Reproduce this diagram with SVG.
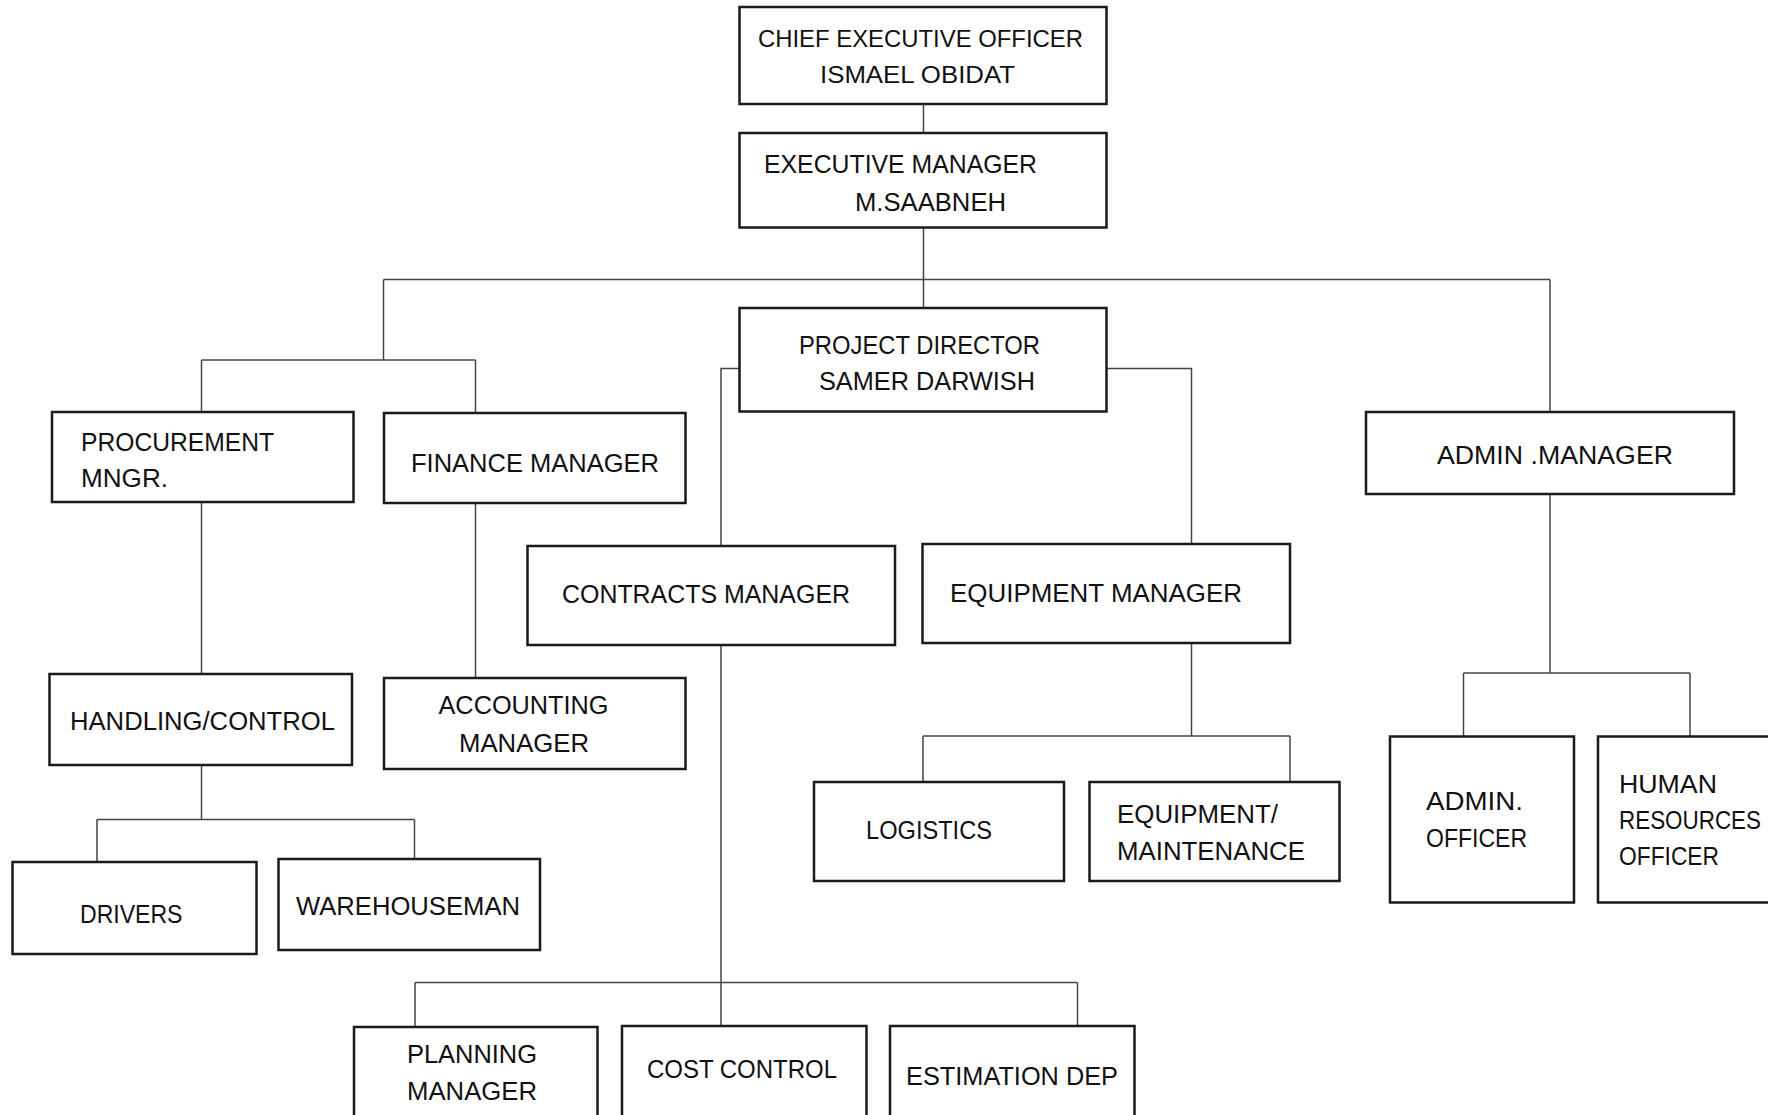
<svg xmlns="http://www.w3.org/2000/svg" width="1768" height="1115" viewBox="0 0 1768 1115">
<style>
.box{fill:#fff;stroke:#1a1a1a;stroke-width:2.5}
.c{fill:none;stroke:#444;stroke-width:1.5}
text{font-family:"Liberation Sans",Arial,sans-serif;font-size:25px;fill:#111}
.s24{font-size:24px}
</style>
<rect width="1768" height="1115" fill="#fff"/>
<g id="connectors">
<path class="c" d="M923.5,104V133"/>
<path class="c" d="M923.5,227V308"/>
<path class="c" d="M383.5,279.5H1550"/>
<path class="c" d="M383.5,279.5V360"/>
<path class="c" d="M1550,279.5V412"/>
<path class="c" d="M201.5,360H475.5"/>
<path class="c" d="M201.5,360V412"/>
<path class="c" d="M475.5,360V413"/>
<path class="c" d="M201.5,502V674"/>
<path class="c" d="M475.5,503V678"/>
<path class="c" d="M201.5,765V819.5"/>
<path class="c" d="M97,819.5H414.5"/>
<path class="c" d="M97,819.5V862"/>
<path class="c" d="M414.5,819.5V859"/>
<path class="c" d="M739.5,368.5H721V546"/>
<path class="c" d="M721,645V1026"/>
<path class="c" d="M415,982.5H1077.5"/>
<path class="c" d="M415,982.5V1027"/>
<path class="c" d="M1077.5,982.5V1026"/>
<path class="c" d="M1106.5,368.5H1191.5V544"/>
<path class="c" d="M1191.5,643V736"/>
<path class="c" d="M923,736H1290"/>
<path class="c" d="M923,736V782"/>
<path class="c" d="M1290,736V782"/>
<path class="c" d="M1550,494V673"/>
<path class="c" d="M1463.5,673H1690"/>
<path class="c" d="M1463.5,673V736.5"/>
<path class="c" d="M1690,673V736.5"/>
</g>
<g id="ceo"><rect class="box" x="739.5" y="7" width="367" height="97"/>
<text class="s24" x="758" y="47" textLength="325" lengthAdjust="spacingAndGlyphs">CHIEF EXECUTIVE OFFICER</text>
<text class="s24" x="820" y="83" textLength="195" lengthAdjust="spacingAndGlyphs">ISMAEL OBIDAT</text></g>
<g id="executive-manager"><rect class="box" x="739.5" y="133" width="367" height="94.5"/>
<text x="764" y="173" textLength="273" lengthAdjust="spacingAndGlyphs">EXECUTIVE MANAGER</text>
<text x="855" y="211" textLength="151" lengthAdjust="spacingAndGlyphs">M.SAABNEH</text></g>
<g id="project-director"><rect class="box" x="739.5" y="308" width="367" height="103.5"/>
<text x="799" y="354" textLength="241" lengthAdjust="spacingAndGlyphs">PROJECT DIRECTOR</text>
<text x="819" y="390" textLength="216" lengthAdjust="spacingAndGlyphs">SAMER DARWISH</text></g>
<g id="procurement"><rect class="box" x="52" y="412" width="301.5" height="90"/>
<text x="81" y="450.5" textLength="193" lengthAdjust="spacingAndGlyphs">PROCUREMENT</text>
<text x="81" y="487" textLength="87" lengthAdjust="spacingAndGlyphs">MNGR.</text></g>
<g id="finance"><rect class="box" x="384" y="413" width="301.5" height="90"/>
<text x="411" y="472" textLength="248" lengthAdjust="spacingAndGlyphs">FINANCE MANAGER</text></g>
<g id="contracts"><rect class="box" x="527.5" y="546" width="367.5" height="99"/>
<text x="562" y="603" textLength="288" lengthAdjust="spacingAndGlyphs">CONTRACTS MANAGER</text></g>
<g id="equipment-manager"><rect class="box" x="922.5" y="544" width="367.5" height="99"/>
<text x="950" y="602" textLength="292" lengthAdjust="spacingAndGlyphs">EQUIPMENT MANAGER</text></g>
<g id="admin-manager"><rect class="box" x="1366" y="412" width="368" height="82"/>
<text x="1437" y="464" textLength="236" lengthAdjust="spacingAndGlyphs">ADMIN .MANAGER</text></g>
<g id="handling"><rect class="box" x="49.5" y="674" width="302.5" height="91"/>
<text x="70" y="730" textLength="265" lengthAdjust="spacingAndGlyphs">HANDLING/CONTROL</text></g>
<g id="accounting"><rect class="box" x="384" y="678" width="301.5" height="91"/>
<text x="438.5" y="714" textLength="170" lengthAdjust="spacingAndGlyphs">ACCOUNTING</text>
<text x="459" y="752" textLength="130" lengthAdjust="spacingAndGlyphs">MANAGER</text></g>
<g id="drivers"><rect class="box" x="12.5" y="862" width="244" height="92"/>
<text x="80" y="923" textLength="102.5" lengthAdjust="spacingAndGlyphs">DRIVERS</text></g>
<g id="warehouseman"><rect class="box" x="278.5" y="859" width="261.5" height="91"/>
<text x="296" y="915" textLength="224" lengthAdjust="spacingAndGlyphs">WAREHOUSEMAN</text></g>
<g id="logistics"><rect class="box" x="814" y="782" width="250" height="99"/>
<text x="866" y="839" textLength="126" lengthAdjust="spacingAndGlyphs">LOGISTICS</text></g>
<g id="equipment-maintenance"><rect class="box" x="1089.5" y="782" width="250" height="99"/>
<text x="1117" y="823" textLength="161" lengthAdjust="spacingAndGlyphs">EQUIPMENT/</text>
<text x="1117" y="860" textLength="188" lengthAdjust="spacingAndGlyphs">MAINTENANCE</text></g>
<g id="admin-officer"><rect class="box" x="1390" y="736.5" width="184" height="166"/>
<text x="1426" y="810" textLength="97" lengthAdjust="spacingAndGlyphs">ADMIN.</text>
<text x="1426" y="846.5" textLength="101" lengthAdjust="spacingAndGlyphs">OFFICER</text></g>
<g id="hr-officer"><rect class="box" x="1598" y="736.5" width="180" height="166"/>
<text x="1619" y="792.5" textLength="98" lengthAdjust="spacingAndGlyphs">HUMAN</text>
<text x="1619" y="829" textLength="142" lengthAdjust="spacingAndGlyphs">RESOURCES</text>
<text x="1619" y="865" textLength="100" lengthAdjust="spacingAndGlyphs">OFFICER</text></g>
<g id="planning"><rect class="box" x="354" y="1027" width="243.5" height="100"/>
<text x="407" y="1063" textLength="130" lengthAdjust="spacingAndGlyphs">PLANNING</text>
<text x="407" y="1100" textLength="130" lengthAdjust="spacingAndGlyphs">MANAGER</text></g>
<g id="cost-control"><rect class="box" x="622" y="1026" width="244.5" height="100"/>
<text x="647" y="1078" textLength="190" lengthAdjust="spacingAndGlyphs">COST CONTROL</text></g>
<g id="estimation"><rect class="box" x="890" y="1026" width="244.5" height="100"/>
<text x="906" y="1085" textLength="212" lengthAdjust="spacingAndGlyphs">ESTIMATION DEP</text></g>
</svg>
